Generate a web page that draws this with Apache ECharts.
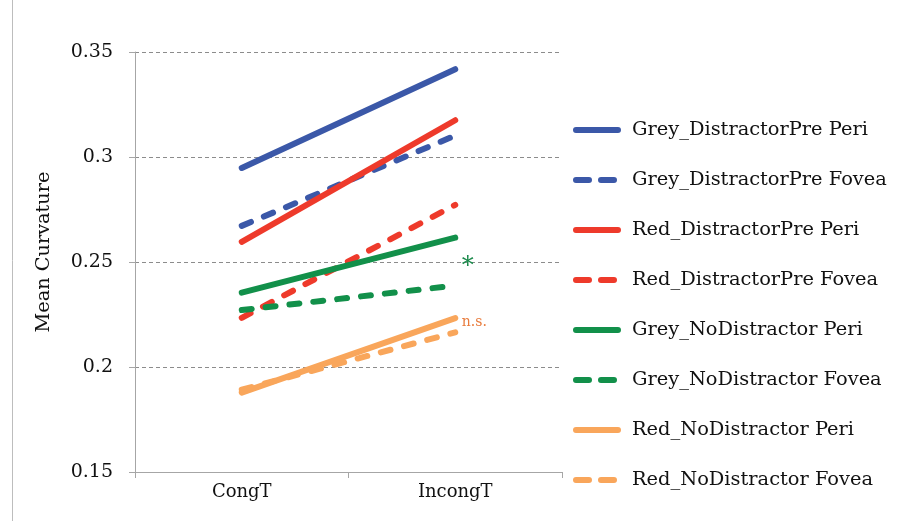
<!DOCTYPE html>
<html>
<head>
<meta charset="utf-8">
<script src="https://cdn.jsdelivr.net/npm/echarts@6/dist/echarts.min.js"></script>
<style>
  html, body { margin: 0; padding: 0; background: #fff; }
  #chart { width: 897px; height: 521px; }
</style>
</head>
<body>
<div id="chart"></div>
<script>
// Target congruency conditions
const categories = ['CongT', 'IncongT'];

// Mean curvature per condition
const greyDistPrePeri   = [0.2948, 0.3418];
const greyDistPreFovea  = [0.2672, 0.3102];
const redDistPrePeri    = [0.2596, 0.3175];
const redDistPreFovea   = [0.2234, 0.2772];
const greyNoDistPeri    = [0.2354, 0.2616];
const greyNoDistFovea   = [0.2271, 0.2388];
const redNoDistPeri     = [0.1878, 0.2233];
const redNoDistFovea    = [0.1892, 0.2165];

const yTicks = [0.15, 0.2, 0.25, 0.3, 0.35];
const yTickLabels = ['0.15', '0.2', '0.25', '0.3', '0.35'];

const BLUE = '#3b58a8';
const RED = '#ee3a2b';
const GREEN = '#12904a';
const ORANGE = '#f9a65b';
const DASH = [10, 14];

const serif = '"DejaVu Serif", "Liberation Serif", serif';

// legend glyphs: a single pill for solid lines, two short pills for dashed lines
const ICON_SOLID = 'path://M3,0 H45 A3,3 0 0 1 45,6 H3 A3,3 0 0 1 3,0 Z M48,0 L48,6';
const ICON_DASHED = 'path://M3,0 H16 A3,3 0 0 1 16,6 H3 A3,3 0 0 1 3,0 Z M28,0 H41 A3,3 0 0 1 41,6 H28 A3,3 0 0 1 28,0 Z M48,0 L48,6';

function line(name, data, color, dashed) {
  return {
    name: name,
    type: 'line',
    data: data,
    symbol: 'none',
    silent: true,
    lineStyle: { color: color, width: 6, type: dashed ? DASH : 'solid', cap: 'round' },
    itemStyle: { color: color }
  };
}

const series = [
  line('Grey_DistractorPre Peri', greyDistPrePeri, BLUE, false),
  line('Grey_DistractorPre Fovea', greyDistPreFovea, BLUE, true),
  line('Red_DistractorPre Peri', redDistPrePeri, RED, false),
  line('Red_DistractorPre Fovea', redDistPreFovea, RED, true),
  line('Grey_NoDistractor Peri', greyNoDistPeri, GREEN, false),
  line('Grey_NoDistractor Fovea', greyNoDistFovea, GREEN, true),
  line('Red_NoDistractor Peri', redNoDistPeri, ORANGE, false),
  line('Red_NoDistractor Fovea', redNoDistFovea, ORANGE, true)
];

// significance markers beside the IncongT end of the no-distractor lines
function marker(value, text, color, size, dx, dy) {
  return {
    symbol: 'circle',
    symbolSize: 1,
    silent: true,
    itemStyle: { color: 'rgba(0,0,0,0)' },
    data: [{
      coord: ['IncongT', value],
      label: { show: true, formatter: text, color: color, fontSize: size, fontFamily: serif, position: 'right', distance: 0, offset: [dx, dy] }
    }]
  };
}
series[4].markPoint = marker(0.25, '*', '#1b8a4b', 24, 6, 5);
series[6].markPoint = marker(0.2222, 'n.s.', '#e87b3c', 14, 6, 2);

const chart = echarts.init(document.getElementById('chart'), null, { renderer: 'canvas' });
chart.setOption({
  animation: false,
  backgroundColor: '#fff',
  grid: { left: 135, right: 335, top: 52, bottom: 49, containLabel: false },
  xAxis: {
    type: 'category',
    data: categories,
    boundaryGap: true,
    axisLine: { lineStyle: { color: '#a6a6a6', width: 1 } },
    axisTick: { show: true, length: 6, lineStyle: { color: '#a6a6a6' } },
    axisLabel: { color: '#111', fontSize: 18, fontFamily: serif, margin: 11 },
    splitLine: { show: false }
  },
  yAxis: {
    type: 'value',
    min: 0.15,
    max: 0.35,
    interval: 0.05,
    axisLine: { show: true, lineStyle: { color: '#a6a6a6', width: 1 } },
    axisTick: { show: true, length: 6, inside: false, lineStyle: { color: '#a6a6a6' } },
    axisLabel: {
      color: '#111', fontSize: 19, fontFamily: serif, margin: 22,
      formatter: function (v) {
        const i = yTicks.findIndex(t => Math.abs(t - v) < 1e-9);
        return i >= 0 ? yTickLabels[i] : '';
      }
    },
    splitLine: {
      show: true,
      lineStyle: { color: '#8c8c8c', type: [4, 3], width: 1 }
    }
  },
  legend: {
    orient: 'vertical',
    left: 573,
    top: 120,
    padding: 0,
    itemWidth: 48,
    itemHeight: 6,
    itemGap: 30,
    selectedMode: false,
    textStyle: { color: '#111', fontSize: 19.4, fontFamily: serif, lineHeight: 20, padding: [0, 0, 0, 6] },
    data: series.map(s => ({ name: s.name, icon: Array.isArray(s.lineStyle.type) ? ICON_DASHED : ICON_SOLID }))
  },
  graphic: [
    { type: 'line', shape: { x1: 12.5, y1: 0, x2: 12.5, y2: 521 }, style: { stroke: '#bdbdbd', lineWidth: 1 }, silent: true },
    {
      type: 'text', x: 44, y: 252, rotation: Math.PI / 2, silent: true,
      style: { text: 'Mean Curvature', fill: '#111', font: '19.3px ' + serif, textAlign: 'center', textVerticalAlign: 'middle' }
    }
  ],
  series: series
});
</script>
</body>
</html>
